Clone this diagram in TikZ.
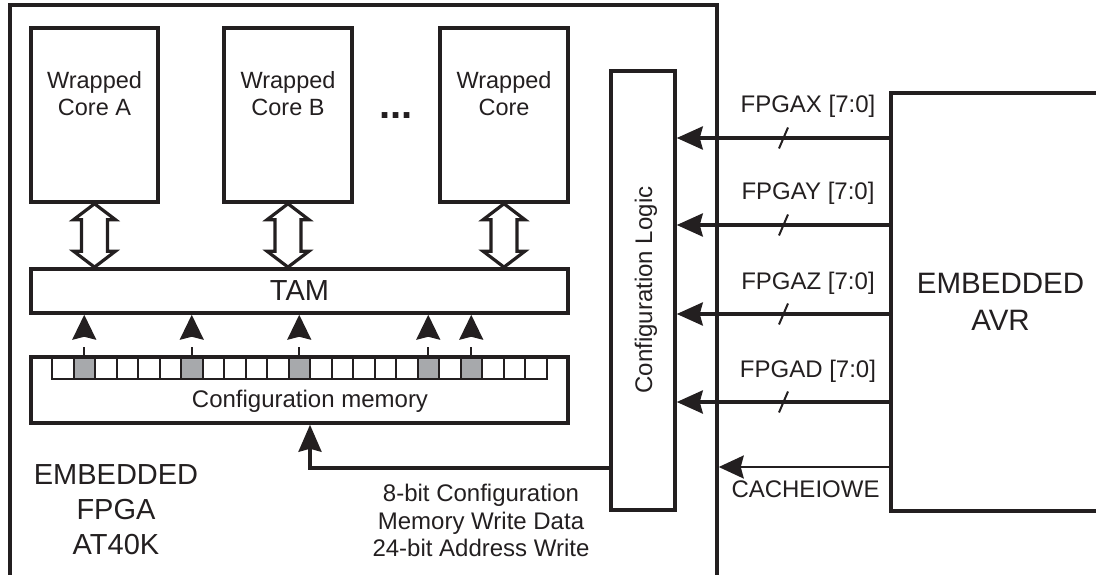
\documentclass[tikz,border=0pt]{standalone}
\usepackage{fontspec}
\setmainfont{Liberation Sans}
\usetikzlibrary{arrows.meta}
\definecolor{ink}{HTML}{231F20}
\definecolor{cellgray}{HTML}{A7A9AC}
\begin{document}
\begin{tikzpicture}[x=1pt,y=-1pt,
  box/.style={draw=ink,line width=3.5pt,rectangle,inner sep=0pt},
  cell/.style={draw=ink,line width=2pt,rectangle,inner sep=0pt,minimum width=21.5pt,minimum height=22pt},
  txt/.style={text=ink,inner sep=0pt,align=center},
  fa/.style={font=\fontsize{23.5}{26.7}\selectfont},
  fb/.style={font=\fontsize{24}{27.5}\selectfont},
  fc/.style={font=\fontsize{29}{35}\selectfont},
  bus/.style={draw=ink,line width=3.6pt,-{Stealth[length=26pt,width=23pt,inset=3pt]}},
  thinbus/.style={draw=ink,line width=2.2pt,-{Stealth[length=25pt,width=23pt,inset=3pt]}},
  feed/.style={draw=ink,line width=3.2pt,-{Stealth[length=27pt,width=23pt,inset=3pt]}},
  cellarrow/.style={draw=ink,line width=2pt,dash pattern=on 9pt off 40pt,-{Stealth[length=25pt,width=24pt,inset=3pt]}},
  hollow/.style={draw=ink,line width=3.2pt,fill=white,line join=miter},
  slashline/.style={draw=ink,line width=2pt},
]
\useasboundingbox (0,0) rectangle (1096,575);

% main blocks
\node[box,minimum width=707pt,minimum height=600pt] (fpga) at (363.5,305) {};
\node[box,minimum width=219pt,minimum height=418pt,txt,font=\fontsize{29.5}{36.7}\selectfont] (avr) at (1000.5,302) {EMBEDDED\\AVR};

% wrapped cores
\node[box,minimum width=127pt,minimum height=174pt] (coreA) at (94.5,115) {};
\node[box,minimum width=128pt,minimum height=174pt] (coreB) at (288,115) {};
\node[box,minimum width=128pt,minimum height=174pt] (coreC) at (504,115) {};
\node[txt,fa] (coreAt) at (94.5,93.3) {Wrapped\\Core A};
\node[txt,fa] (coreBt) at (288,93.3) {Wrapped\\Core B};
\node[txt,fa] (coreCt) at (504,93.3) {Wrapped\\Core};
\node[txt,font=\fontsize{40}{40}\selectfont\bfseries,anchor=base] (dots) at (396,119) {...};

% TAM
\node[box,minimum width=537pt,minimum height=44pt,txt,fc] (tam) at (299.5,291) {TAM};

% configuration memory cells
\foreach \i/\f in {0/white,1/cellgray,2/white,3/white,4/white,5/white,6/cellgray,7/white,8/white,9/white,10/white,11/cellgray,12/white,13/white,14/white,15/white,16/white,17/cellgray,18/white,19/cellgray,20/white,21/white,22/white}
  \node[cell,fill=\f] (c\i) at (62.75+21.5*\i,368) {};
\node[box,minimum width=537pt,minimum height=66pt] (cmem) at (299.5,390) {};
\node[txt,fb,anchor=base] (cmemt) at (310,407) {Configuration memory};

% configuration logic
\node[box,minimum width=64pt,minimum height=439pt] (cl) at (643,290.5) {};
\node[txt,fb,rotate=90,anchor=base] (clt) at (652,290) {Configuration Logic};

% hollow double arrows core <-> TAM
\foreach \n in {coreA,coreB,coreC}
  \draw[hollow] (\n.south) -- ++(-21,16) -- ++(8,0) -- ++(0,31.4) -- ++(-8,0) -- ++(21,16)
     -- ++(21,-16) -- ++(-8,0) -- ++(0,-31.4) -- ++(8,0) -- cycle;

% dashed arrows from memory cells to TAM
\foreach \i in {1,6,11,17,19}
  \draw[cellarrow] (c\i.north) -- (c\i.north |- tam.south);

% buses from AVR to configuration logic
\foreach \y/\name/\lab in {138/fx/{FPGAX [7:0]},225/fy/{FPGAY [7:0]},314/fz/{FPGAZ [7:0]},402/fd/{FPGAD [7:0]}}{
  \draw[bus] (avr.west |- 0,\y) -- (cl.east |- 0,\y);
  \draw[slashline] (783.5,\y) ++(-4.5,10.5) -- ++(9,-21);
  \node[txt,fb,anchor=base] (\name) at (808,\y-25) {\lab};
}

% CACHEIOWE
\draw[thinbus] (avr.west |- 0,467) -- (fpga.east |- 0,467);
\node[txt,fb,anchor=base] (cache) at (805.5,497) {CACHEIOWE};

% configuration logic -> configuration memory
\draw[feed] (cl.west |- 0,468) -| (cmem.south -| 310,0);
\node[txt,fb] (feedt) at (481,520.5) {8-bit Configuration\\Memory Write Data\\24-bit Address Write};

% FPGA label
\node[txt,fc] (fpgat) at (116,510) {EMBEDDED\\FPGA\\AT40K};
\end{tikzpicture}
\end{document}
